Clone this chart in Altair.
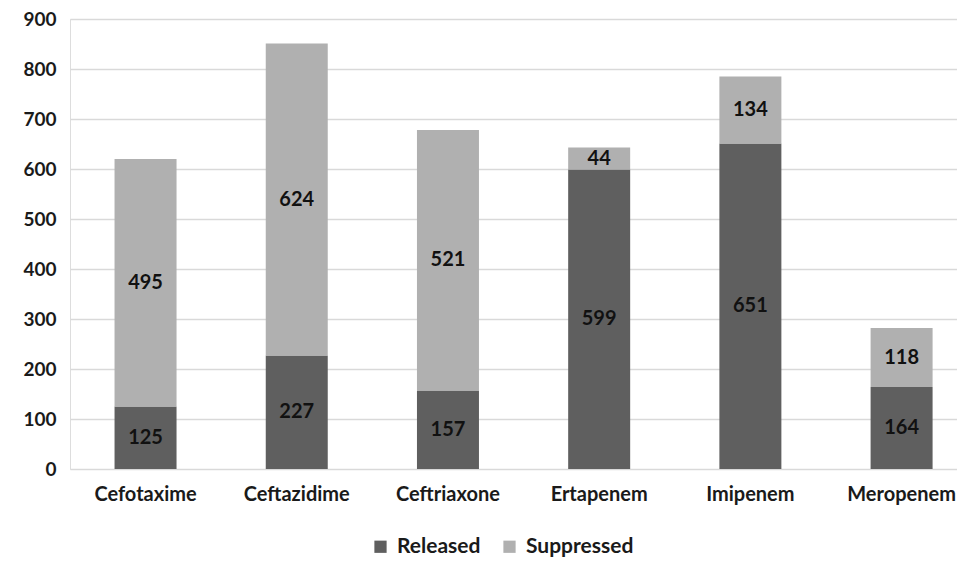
import altair as alt
import pandas as pd

drugs = ["Cefotaxime", "Ceftazidime", "Ceftriaxone", "Ertapenem", "Imipenem", "Meropenem"]
released = [125, 227, 157, 599, 651, 164]
suppressed = [495, 624, 521, 44, 134, 118]
series = ["Released", "Suppressed"]
colors = ["#5f5f5f", "#b0b0b0"]
y_ticks = [0, 100, 200, 300, 400, 500, 600, 700, 800, 900]

rows = []
for d, r, s in zip(drugs, released, suppressed):
    rows.append({"drug": d, "series": "Released", "value": r, "ord": 0})
    rows.append({"drug": d, "series": "Suppressed", "value": s, "ord": 1})
df = pd.DataFrame(rows)

FONT = "Lato"

base = alt.Chart(df).transform_stack(
    stack="value", groupby=["drug"], as_=["v0", "v1"], sort=[alt.SortField("ord")]
).transform_calculate(mid="(datum.v0 + datum.v1) / 2")

xenc = alt.X("drug:N", sort=drugs, title=None,
             scale=alt.Scale(paddingInner=0.59, paddingOuter=0.228, align=0.646, round=False),
             axis=alt.Axis(labelAngle=0, labelFont=FONT, labelFontSize=20, labelFontWeight="bold",
                           labelColor="#1a1a1a", ticks=False, domain=False, labelPadding=15, grid=False))

bars = base.mark_bar().encode(
    x=xenc,
    y=alt.Y("v0:Q", title=None,
            scale=alt.Scale(domain=[0, 900], nice=False),
            axis=alt.Axis(values=y_ticks, labelFont=FONT, labelFontSize=19, labelFontWeight="bold",
                          labelColor="#1a1a1a", ticks=False, domain=False, labelPadding=14,
                          gridColor="#d9d9d9", gridWidth=1.5)),
    y2="v1:Q",
    color=alt.Color("series:N", sort=series,
                    scale=alt.Scale(domain=series, range=colors),
                    legend=alt.Legend(title=None, orient="none", direction="horizontal",
                                      legendX=300, legendY=517, symbolType="square", symbolSize=150,
                                      symbolStrokeWidth=0, labelFont=FONT, labelFontSize=21,
                                      labelFontWeight="bold", labelColor="#1a1a1a", columnPadding=18,
                                      labelOffset=6)),
    order=alt.Order("ord:Q"),
)

labels = base.mark_text(font=FONT, fontSize=20, fontWeight="bold", color="#111111", baseline="middle").encode(
    x=alt.X("drug:N", sort=drugs),
    y=alt.Y("mid:Q"),
    text=alt.Text("value:Q"),
)

chart = alt.layer(bars, labels).properties(
    width=887, height=450,
    autosize=alt.AutoSizeParams(type="none"),
    padding={"left": 62, "top": 11, "right": 0, "bottom": 90},
).configure_view(stroke=None).configure(background="white")

chart.save("out.html", embed_options={"renderer": "svg", "actions": False})
